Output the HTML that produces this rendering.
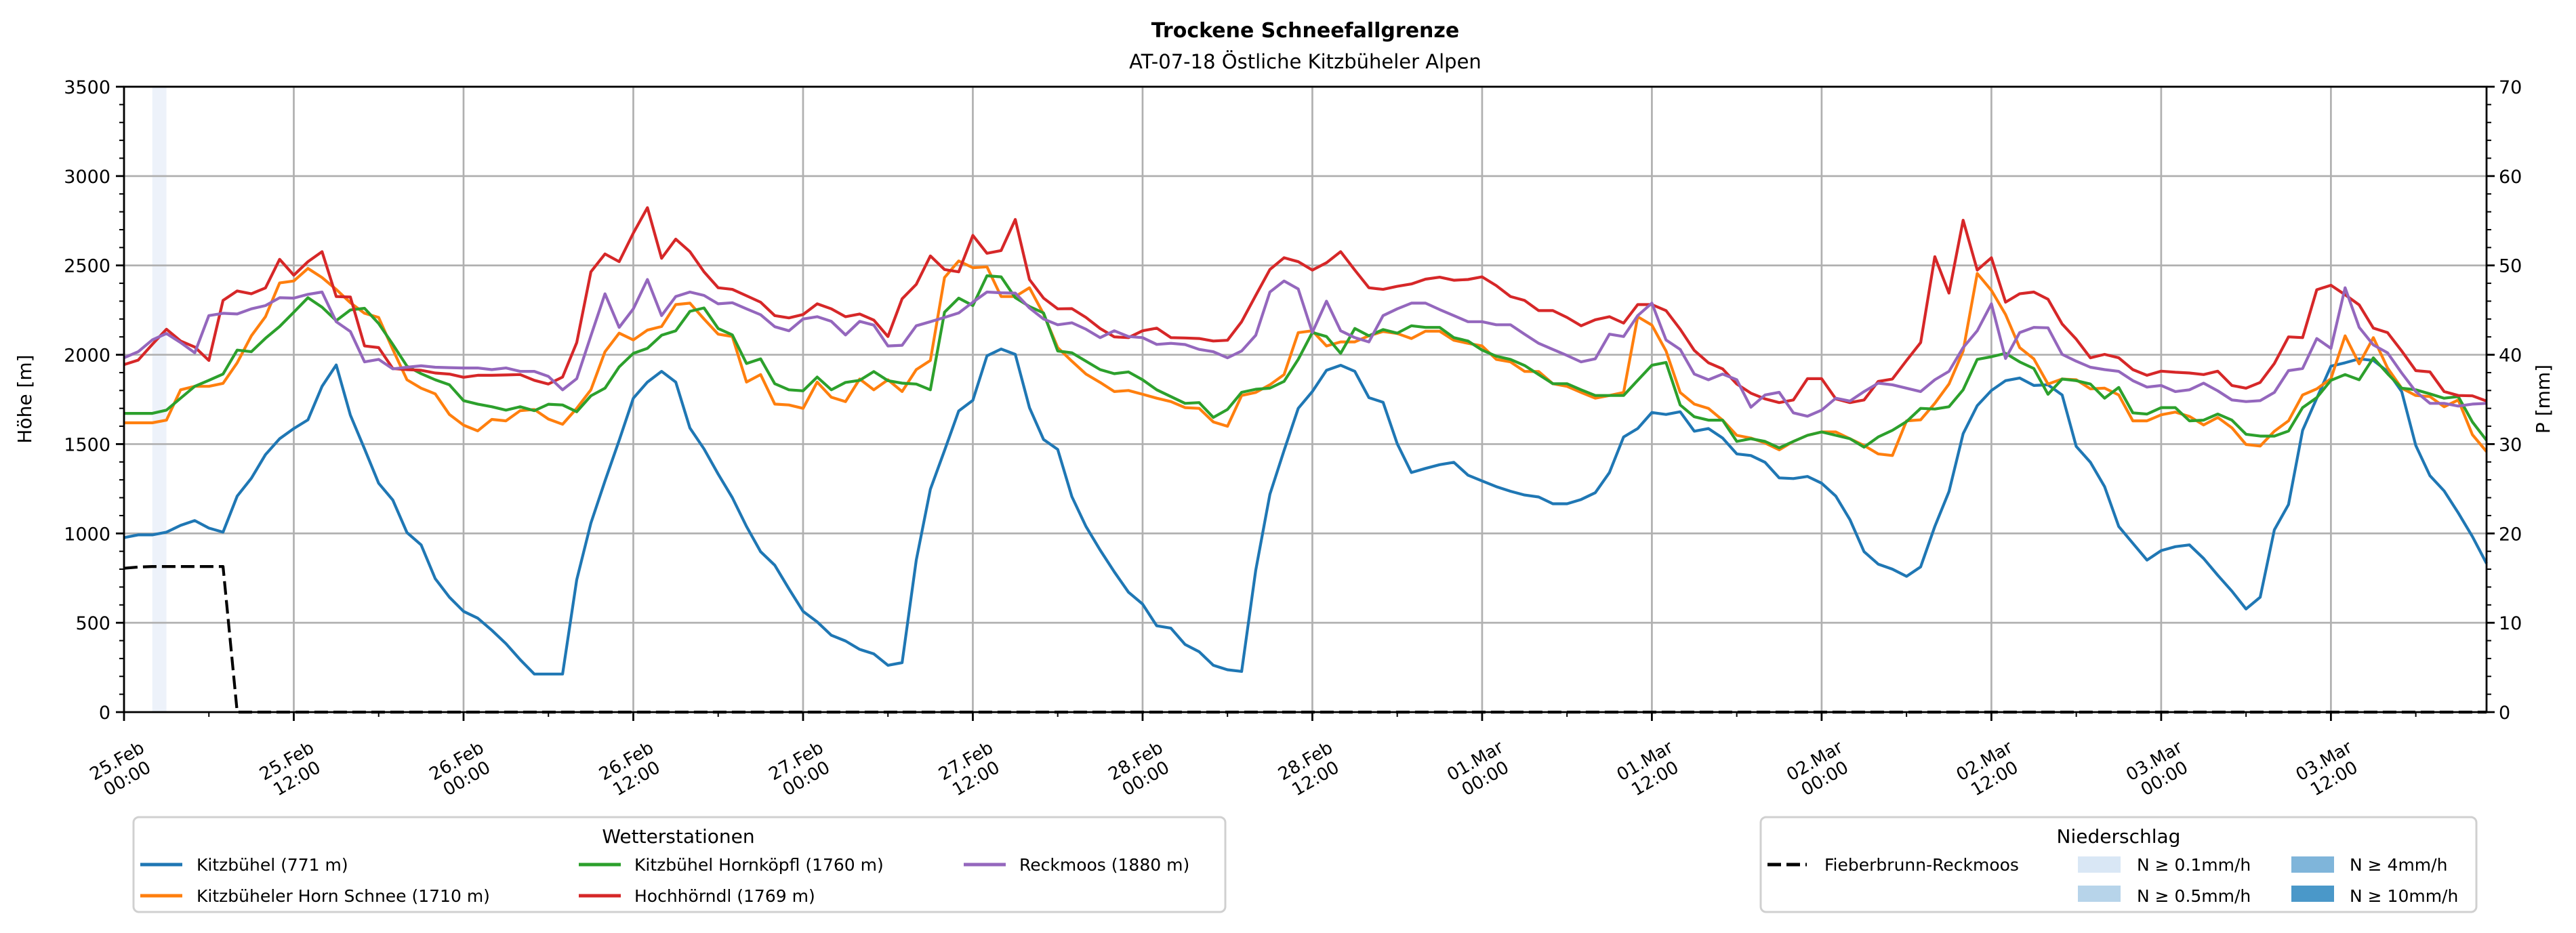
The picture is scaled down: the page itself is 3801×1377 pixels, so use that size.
<!DOCTYPE html>
<html><head><meta charset="utf-8"><title>Trockene Schneefallgrenze</title>
<style>
html,body{margin:0;padding:0;background:#fff;}
svg{display:block;font-family:"DejaVu Sans","Liberation Sans",sans-serif;}
</style></head>
<body>
<svg id="chart" xmlns="http://www.w3.org/2000/svg" width="3801" height="1377" viewBox="0 0 3801 1377">
<rect width="3801" height="1377" fill="#fff"/>
<text x="1926" y="55" text-anchor="middle" font-size="30" font-weight="bold">Trockene Schneefallgrenze</text>
<text x="1926" y="101" text-anchor="middle" font-size="29">AT-07-18 Östliche Kitzbüheler Alpen</text>
<g id="plot"></g>
<text transform="translate(46,589) rotate(-90)" text-anchor="middle" font-size="28">Höhe [m]</text>
<text transform="translate(3762,589) rotate(-90)" text-anchor="middle" font-size="28">P [mm]</text>

<g>
<rect x="197" y="1206" width="1611" height="140" rx="8" fill="#fff" stroke="#d0d0d0" stroke-width="3"/>
<text x="1001" y="1244" text-anchor="middle" font-size="28">Wetterstationen</text>
<g><line x1="207" y1="1276" x2="269" y2="1276" stroke="#1f77b4" stroke-width="5"/><text x="290" y="1285" font-size="25">Kitzbühel (771 m)</text></g>
<g><line x1="207" y1="1322" x2="269" y2="1322" stroke="#ff7f0e" stroke-width="5"/><text x="290" y="1331" font-size="25">Kitzbüheler Horn Schnee (1710 m)</text></g>
<g><line x1="854" y1="1276" x2="916" y2="1276" stroke="#2ca02c" stroke-width="5"/><text x="936" y="1285" font-size="25">Kitzbühel Hornköpfl (1760 m)</text></g>
<g><line x1="854" y1="1322" x2="916" y2="1322" stroke="#d62728" stroke-width="5"/><text x="936" y="1331" font-size="25">Hochhörndl (1769 m)</text></g>
<g><line x1="1422" y1="1276" x2="1484" y2="1276" stroke="#9467bd" stroke-width="5"/><text x="1504" y="1285" font-size="25">Reckmoos (1880 m)</text></g>
</g>

<g>
<rect x="2598" y="1206" width="1056" height="140" rx="8" fill="#fff" stroke="#d0d0d0" stroke-width="3"/>
<text x="3126" y="1244" text-anchor="middle" font-size="28">Niederschlag</text>
<g><line x1="2608" y1="1276" x2="2666" y2="1276" stroke="#000" stroke-width="5" stroke-dasharray="20,8"/><text x="2692" y="1285" font-size="25">Fieberbrunn-Reckmoos</text></g>
<g><rect x="3066" y="1264" width="63" height="24" fill="#d9e7f5"/><text x="3153" y="1285" font-size="25">N ≥ 0.1mm/h</text></g>
<g><rect x="3066" y="1307" width="63" height="24" fill="#b7d4ea"/><text x="3153" y="1331" font-size="25">N ≥ 0.5mm/h</text></g>
<g><rect x="3381" y="1264" width="63" height="24" fill="#7fb5da"/><text x="3467" y="1285" font-size="25">N ≥ 4mm/h</text></g>
<g><rect x="3381" y="1307" width="63" height="24" fill="#4a98c9"/><text x="3467" y="1331" font-size="25">N ≥ 10mm/h</text></g>
</g>
</svg>
<script>
const kitzbuehel = [977,992,992,1007,1045,1072,1030,1007,1209,1309,1441,1530,1587,1636,1823,1943,1662,1473,1281,1187,1005,936,747,643,564,526,458,383,294,213,213,213,741,1058,1294,1521,1757,1847,1907,1847,1590,1473,1332,1200,1039,898,822,690,564,505,430,398,351,326,262,277,851,1247,1464,1685,1745,1994,2032,2002,1704,1526,1470,1206,1039,907,785,671,605,483,470,379,338,262,237,228,794,1219,1464,1700,1794,1913,1941,1907,1760,1734,1502,1341,1364,1385,1398,1326,1294,1262,1236,1215,1204,1166,1166,1190,1228,1341,1540,1587,1677,1666,1681,1572,1587,1534,1445,1436,1398,1311,1307,1319,1281,1209,1077,898,828,800,760,813,1039,1234,1558,1715,1800,1855,1870,1828,1832,1775,1487,1398,1262,1039,945,851,904,926,936,860,766,677,577,643,1020,1162,1577,1757,1936,1955,1977,1968,1907,1794,1492,1323,1238,1115,983,832];
const hornSchnee = [1619,1619,1619,1634,1804,1823,1823,1840,1955,2106,2213,2402,2413,2483,2432,2366,2291,2232,2209,2030,1860,1813,1781,1666,1606,1574,1638,1630,1687,1694,1640,1611,1700,1804,2017,2121,2083,2138,2158,2281,2289,2200,2115,2102,1847,1889,1724,1719,1700,1847,1762,1738,1864,1804,1860,1794,1917,1968,2432,2525,2487,2492,2326,2326,2375,2228,2040,1964,1892,1845,1794,1800,1779,1757,1738,1704,1700,1624,1600,1772,1789,1832,1889,2124,2134,2049,2072,2072,2106,2130,2119,2091,2132,2132,2081,2064,2049,1974,1960,1907,1906,1838,1823,1789,1757,1772,1789,2213,2166,2021,1789,1724,1700,1634,1549,1534,1506,1468,1515,1549,1568,1568,1530,1492,1445,1436,1630,1636,1728,1836,2021,2455,2360,2225,2040,1977,1836,1864,1860,1809,1813,1775,1630,1630,1664,1679,1655,1607,1649,1591,1498,1489,1572,1630,1775,1809,1866,2106,1949,2096,1926,1813,1772,1766,1709,1747,1553,1458];
const hornkoepfl = [1672,1672,1672,1690,1757,1823,1857,1892,2026,2017,2092,2158,2238,2319,2266,2191,2251,2260,2175,2058,1936,1894,1860,1832,1743,1724,1709,1690,1709,1687,1723,1719,1681,1770,1813,1932,2008,2036,2109,2134,2243,2262,2147,2111,1951,1977,1838,1804,1798,1875,1804,1845,1857,1906,1855,1841,1836,1804,2238,2317,2275,2442,2436,2319,2270,2234,2021,2011,1964,1917,1894,1904,1860,1804,1766,1728,1732,1649,1694,1790,1807,1813,1851,1974,2125,2102,2008,2147,2106,2141,2121,2162,2153,2153,2096,2077,2026,1992,1974,1940,1889,1838,1838,1804,1772,1772,1772,1857,1941,1957,1719,1653,1634,1634,1515,1530,1515,1479,1515,1549,1568,1549,1530,1483,1540,1577,1626,1700,1696,1709,1804,1974,1989,2008,1960,1923,1779,1864,1855,1836,1757,1817,1675,1668,1704,1704,1630,1634,1668,1634,1555,1545,1545,1573,1704,1760,1857,1889,1860,1983,1894,1813,1804,1781,1757,1766,1624,1521];
const hochhoerndl = [1945,1970,2058,2143,2077,2043,1968,2304,2357,2341,2374,2534,2445,2521,2577,2326,2323,2049,2040,1923,1917,1913,1898,1892,1874,1885,1885,1887,1889,1857,1836,1875,2068,2464,2564,2521,2681,2823,2540,2647,2577,2464,2375,2366,2330,2294,2219,2206,2225,2285,2257,2213,2228,2194,2102,2313,2394,2553,2477,2464,2668,2568,2583,2757,2421,2317,2257,2258,2209,2147,2100,2096,2134,2149,2096,2094,2091,2077,2081,2185,2332,2477,2543,2521,2474,2515,2577,2474,2375,2366,2383,2396,2423,2434,2417,2421,2436,2387,2326,2304,2247,2247,2209,2162,2196,2213,2177,2281,2281,2247,2143,2024,1955,1921,1836,1785,1753,1732,1747,1866,1866,1753,1732,1747,1851,1864,1968,2068,2549,2345,2753,2474,2543,2294,2341,2351,2311,2172,2087,1983,2002,1983,1917,1885,1908,1902,1898,1889,1908,1828,1813,1845,1951,2100,2096,2364,2389,2336,2279,2149,2124,2021,1911,1904,1794,1772,1770,1741];
const reckmoos = [1983,2017,2083,2119,2068,2011,2219,2232,2228,2257,2275,2319,2317,2338,2351,2185,2130,1960,1974,1921,1930,1938,1930,1928,1926,1926,1917,1926,1907,1907,1879,1804,1866,2106,2341,2153,2257,2421,2219,2326,2351,2332,2285,2291,2257,2224,2157,2134,2200,2213,2187,2111,2187,2166,2049,2053,2162,2185,2209,2234,2294,2351,2347,2345,2262,2200,2168,2179,2143,2096,2134,2102,2096,2058,2064,2057,2030,2017,1983,2021,2109,2351,2413,2368,2125,2300,2134,2096,2072,2219,2257,2289,2289,2253,2219,2185,2185,2168,2168,2115,2064,2030,1996,1960,1977,2115,2102,2219,2289,2083,2030,1892,1860,1892,1860,1706,1775,1790,1675,1656,1690,1757,1741,1794,1841,1832,1813,1794,1860,1907,2040,2134,2285,1979,2124,2153,2151,2002,1964,1930,1917,1907,1855,1819,1828,1794,1804,1841,1798,1747,1738,1743,1789,1911,1923,2091,2036,2375,2153,2055,2011,1898,1794,1728,1728,1713,1724,1728];
const fieberbrunnHead = [805,812,815,815,815,815,815,815];
const precipHours = [2];
const precipAmounts = [0.2];
const leftTicks = [0,500,1000,1500,2000,2500,3000,3500];
const rightTicks = [0,10,20,30,40,50,60,70];
const xTickLabels = [["25.Feb","00:00"],["25.Feb","12:00"],["26.Feb","00:00"],["26.Feb","12:00"],["27.Feb","00:00"],["27.Feb","12:00"],["28.Feb","00:00"],["28.Feb","12:00"],["01.Mar","00:00"],["01.Mar","12:00"],["02.Mar","00:00"],["02.Mar","12:00"],["03.Mar","00:00"],["03.Mar","12:00"]];

const NS = "http://www.w3.org/2000/svg";
const L = 183, R = 3669, T = 128, B = 1051, HMAX = 167;
const xs = h => L + h * (R - L) / HMAX;
const ys = v => B - v * (B - T) / 3500;
const yp = p => B - p * (B - T) / 70;
const plot = document.getElementById("plot");
function mk(tag, attrs, parent) {
  const e = document.createElementNS(NS, tag);
  for (const k in attrs) e.setAttribute(k, attrs[k]);
  (parent || plot).appendChild(e);
  return e;
}
// precipitation shading
precipHours.forEach((h, i) => {
  const a = precipAmounts[i];
  const col = a >= 10 ? "#4a98c9" : a >= 4 ? "#7fb5da" : a >= 0.5 ? "#b7d4ea" : "#edf2fa";
  const r = mk("rect", {x: xs(h), y: T, width: xs(h + 1) - xs(h), height: B - T, fill: col});
  
  
});
// grid
leftTicks.forEach(v => {
  const g = mk("line", {x1: L, x2: R, y1: ys(v), y2: ys(v), stroke: "#b0b0b0", "stroke-width": 2.7});
  
  
});
xTickLabels.forEach((lab, i) => {
  const g = mk("line", {x1: xs(i * 12), x2: xs(i * 12), y1: T, y2: B, stroke: "#b0b0b0", "stroke-width": 2.7});
  
  
});
// series
function series(vals, color, name, dash) {
  const pts = vals.map((v, h) => xs(h).toFixed(1) + "," + ys(v).toFixed(1)).join(" ");
  const a = {points: pts, fill: "none", stroke: color, "stroke-width": 4.2, "stroke-linejoin": "round"};
  if (dash) a["stroke-dasharray"] = dash;
  const p = mk("polyline", a);
  
  
}
const fieberbrunn = [];
for (let h = 0; h <= HMAX; h++) fieberbrunn.push(h < fieberbrunnHead.length ? fieberbrunnHead[h] : 0);
series(kitzbuehel, "#1f77b4", "line-kitzbuehel");
series(hornSchnee, "#ff7f0e", "line-horn-schnee");
series(hornkoepfl, "#2ca02c", "line-hornkoepfl");
series(hochhoerndl, "#d62728", "line-hochhoerndl");
series(reckmoos, "#9467bd", "line-reckmoos");
series(fieberbrunn, "#000", "line-fieberbrunn", "20,8");
// axes frame
const fr = mk("rect", {x: L, y: T, width: R - L, height: B - T, fill: "none", stroke: "#000", "stroke-width": 2.8});


// left ticks
leftTicks.forEach(v => {
  mk("line", {x1: L - 12, x2: L, y1: ys(v), y2: ys(v), stroke: "#000", "stroke-width": 2.8});
  const t = mk("text", {x: L - 20, y: ys(v) + 10, "text-anchor": "end", "font-size": 27});
  t.textContent = v;
  
  
});
for (let v = 0; v <= 3500; v += 100) if (v % 500) mk("line", {x1: L - 7, x2: L, y1: ys(v), y2: ys(v), stroke: "#000", "stroke-width": 2});
// right ticks
rightTicks.forEach(p => {
  mk("line", {x1: R, x2: R + 12, y1: yp(p), y2: yp(p), stroke: "#000", "stroke-width": 2.8});
  const t = mk("text", {x: R + 18, y: yp(p) + 10, "font-size": 27});
  t.textContent = p;
  
  
});
for (let p = 0; p <= 70; p += 2) if (p % 10) mk("line", {x1: R, x2: R + 7, y1: yp(p), y2: yp(p), stroke: "#000", "stroke-width": 2});
// x ticks
for (let h = 0; h <= HMAX; h += 6) {
  const major = h % 12 === 0;
  mk("line", {x1: xs(h), x2: xs(h), y1: B, y2: B + (major ? 13 : 7), stroke: "#000", "stroke-width": major ? 2.8 : 2});
}
xTickLabels.forEach((lab, i) => {
  const g = mk("g", {transform: "translate(" + (xs(i * 12) - 4) + ",1134) rotate(-30)"});
  
  
  const t1 = mk("text", {x: 0, y: -4, "text-anchor": "middle", "font-size": 26}, g);
  t1.textContent = lab[0];
  const t2 = mk("text", {x: 0, y: 26, "text-anchor": "middle", "font-size": 26}, g);
  t2.textContent = lab[1];
});
</script>
</body></html>
